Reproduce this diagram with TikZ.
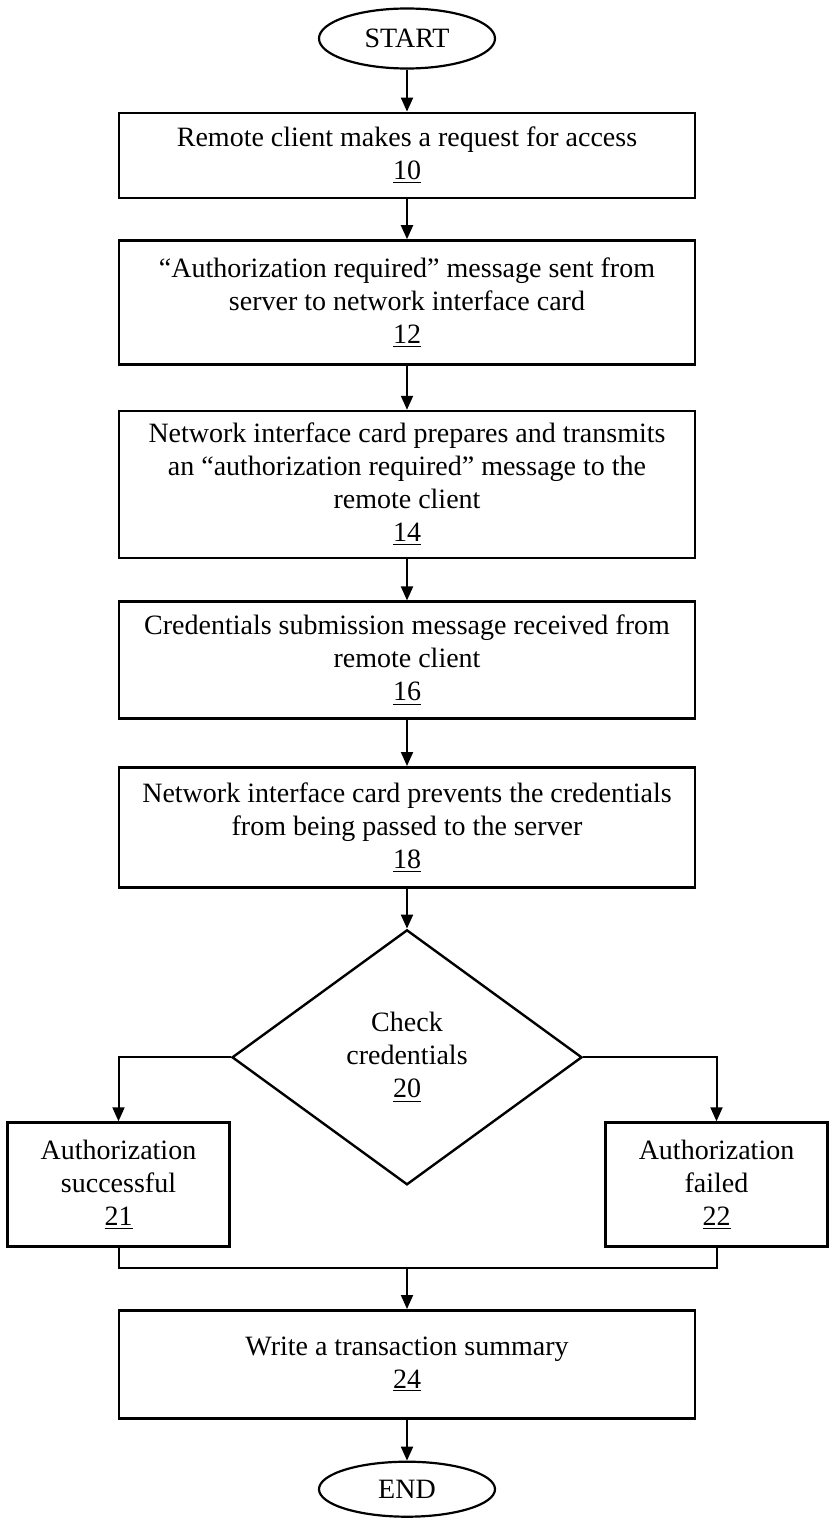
\documentclass[tikz,border=0pt]{standalone}
\usepackage{fontspec}
\setmainfont{Liberation Serif}
\usepackage{tikz}
\usetikzlibrary{shapes.geometric,arrows.meta,positioning}

\begin{document}
\begin{tikzpicture}[
    font=\fontsize{14}{16.5}\selectfont,
    node distance=0mm,
    term/.style={draw, ellipse, minimum width=88pt, minimum height=30pt, inner sep=0pt, line width=1.1pt},
    stepbox/.style={draw, minimum width=288pt, align=center, line width=1.3pt},
    sidebox/.style={draw, minimum width=111pt, minimum height=62pt, align=center, line width=1.3pt},
    check/.style={draw, diamond, aspect=1.37, minimum width=175pt, minimum height=127.5pt, align=center, inner sep=0pt, line width=1.2pt},
    flow/.style={-{Triangle[length=7pt, width=6pt]}, line width=1pt}
]
\useasboundingbox (0,0) rectangle (416.5pt,-760pt);
\node[term] (start) at (203.5pt,-19.25pt) {START};
\node[stepbox, minimum height=42.5pt, below=21pt of start] (request) {Remote client makes a request for access\\\underline{10}};
\node[stepbox, minimum height=62pt, below=20pt of request] (authreq) {“Authorization required” message sent from\\server to network interface card\\\underline{12}};
\node[stepbox, minimum height=73.5pt, below=22pt of authreq] (nicmsg) {Network interface card prepares and transmits\\an “authorization required” message to the\\remote client\\\underline{14}};
\node[stepbox, minimum height=58.5pt, below=20.5pt of nicmsg] (creds) {Credentials submission message received from\\remote client\\\underline{16}};
\node[stepbox, minimum height=60pt, below=23pt of creds] (block) {Network interface card prevents the credentials\\from being passed to the server\\\underline{18}};
\node[check, below=20pt of block] (check) {Check\\credentials\\\underline{20}};
\node[sidebox, below left=32pt and 0pt of check.west] (success) {Authorization\\successful\\\underline{21}};
\node[sidebox, below right=32pt and 10.5pt of check.east] (failed) {Authorization\\failed\\\underline{22}};
\node[stepbox, minimum height=54pt, below=61.5pt of check] (summary) {Write a transaction summary\\\underline{24}};
\node[term, minimum height=27.5pt, below=20.5pt of summary] (stop) {END};
\coordinate[above=20.5pt of summary.north] (merge);

\foreach \a/\b in {start/request, request/authreq, authreq/nicmsg, nicmsg/creds, creds/block, block/check, summary/stop}
  \draw[flow] (\a.south) -- (\b.north);
\draw[flow] (check.west) -| (success.north);
\draw[flow] (check.east) -| (failed.north);
\draw[line width=1pt] (success.south) |- (merge) -| (failed.south);
\draw[flow] (merge) -- (summary.north);
\end{tikzpicture}
\end{document}
